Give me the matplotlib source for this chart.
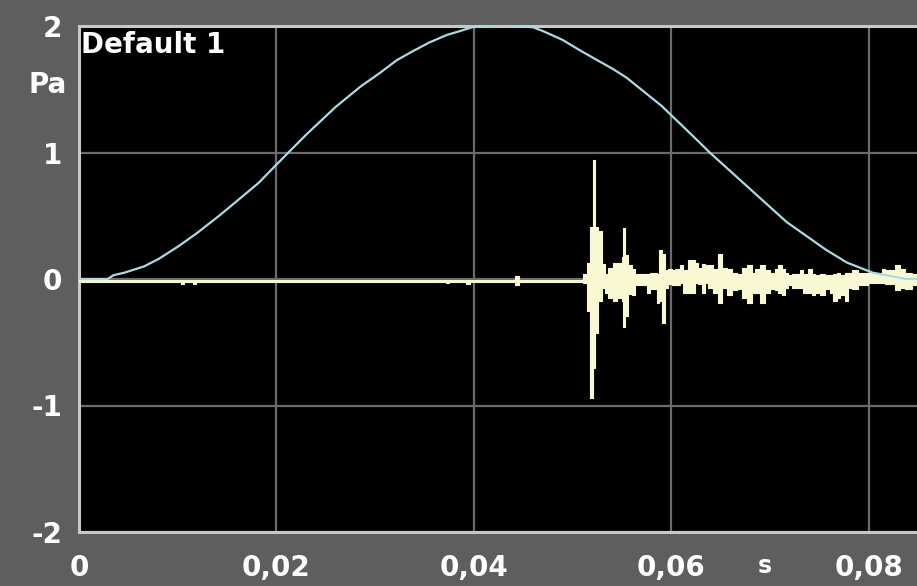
import numpy as np
import matplotlib
matplotlib.use("Agg")
import matplotlib.pyplot as plt

# window curve (light blue), time in ms
window_t = [0.0, 2.9, 3.5, 4.6, 5.6, 6.6, 8.1, 10.1, 11.9, 14.2, 15.9, 18.2, 20.2,
            23.0, 26.0, 28.5, 30.5, 32.2, 33.8, 35.5, 37.3, 38.6, 39.8, 42.7, 46.0,
            47.0, 49.0, 50.7, 52.5, 54.1, 55.5, 59.0, 62.6, 63.9, 69.0, 71.7, 73.7,
            75.7, 77.8, 79.1, 80.4, 81.8, 83.8, 85.0]
window_pa = [0.0, 0.0, 0.03, 0.05, 0.075, 0.10, 0.16, 0.26, 0.36, 0.50, 0.61, 0.76, 0.92,
             1.14, 1.36, 1.52, 1.63, 1.73, 1.80, 1.87, 1.93, 1.96, 1.99, 2.01, 1.99,
             1.96, 1.89, 1.81, 1.73, 1.66, 1.59, 1.37, 1.10, 1.00, 0.64, 0.45, 0.34,
             0.23, 0.13, 0.09, 0.05, 0.03, 0.0, 0.0]

# measured signal (pale yellow), per-column max / min, time in ms
signal_t = [0.0, 10.3, 10.6, 11.5, 11.9, 37.2, 37.5, 39.2, 39.6, 44.2, 44.6,
            50.23, 51.04, 51.44, 51.75, 52.05, 52.25, 52.56, 52.96, 53.27, 53.57,
            54.08, 54.48, 54.99, 55.09, 55.30, 55.59, 56.00, 56.30, 57.52, 57.82,
            58.53, 58.73, 59.04, 59.34, 59.64, 60.05, 60.35, 60.86, 61.16, 61.67,
            62.38, 62.68, 63.09, 63.39, 63.70, 64.20, 64.71, 65.11, 65.62, 66.13,
            66.63, 67.14, 67.65, 68.15, 68.46, 68.96, 69.47, 69.97, 70.48, 70.78,
            71.19, 71.49, 71.80, 72.20, 73.01, 73.32, 73.82, 74.23, 74.53, 75.04,
            75.54, 76.05, 76.35, 76.76, 77.06, 77.57, 77.87, 78.28, 78.89, 79.90,
            81.32, 81.62, 82.63, 83.14, 83.65, 84.35, 84.86]
signal_hi = [-0.005, -0.005, -0.005, -0.005, -0.005, -0.005, -0.005, -0.005, -0.005, 0.02, -0.005,
             -0.005, 0.04, 0.13, 0.41, 0.94, 0.41, 0.38, 0.12, 0.04, 0.09,
             0.13, 0.13, 0.17, 0.40, 0.19, 0.11, 0.08, 0.04, 0.04, 0.05,
             0.04, 0.23, 0.20, 0.07, 0.08, 0.07, 0.08, 0.11, 0.07, 0.15,
             0.13, 0.09, 0.12, 0.11, 0.11, 0.08, 0.20, 0.09, 0.08, 0.05,
             0.04, 0.09, 0.11, 0.05, 0.08, 0.11, 0.07, 0.05, 0.08, 0.11,
             0.08, 0.05, 0.03, 0.04, 0.07, 0.04, 0.08, 0.04, 0.03, 0.04,
             0.03, 0.03, 0.04, 0.05, 0.03, 0.05, 0.05, 0.07, 0.05, 0.05,
             0.08, 0.07, 0.11, 0.08, 0.05, 0.04, 0.04]
signal_lo = [-0.025, -0.04, -0.025, -0.04, -0.025, -0.035, -0.025, -0.04, -0.025, -0.05, -0.025,
             -0.025, -0.03, -0.25, -0.94, -0.70, -0.43, -0.17, -0.07, -0.11, -0.15,
             -0.17, -0.15, -0.17, -0.38, -0.29, -0.12, -0.13, -0.05, -0.11, -0.08,
             -0.19, -0.17, -0.35, -0.07, -0.04, -0.05, -0.05, -0.03, -0.11, -0.11,
             -0.03, -0.04, -0.11, -0.03, -0.07, -0.11, -0.19, -0.07, -0.13, -0.09,
             -0.08, -0.15, -0.19, -0.11, -0.11, -0.19, -0.11, -0.08, -0.09, -0.11,
             -0.13, -0.07, -0.05, -0.07, -0.07, -0.11, -0.11, -0.13, -0.11, -0.13,
             -0.08, -0.11, -0.17, -0.15, -0.13, -0.17, -0.07, -0.08, -0.05, -0.03,
             -0.03, -0.04, -0.09, -0.07, -0.08, -0.05, -0.05]

x_ticks = [0.0, 0.02, 0.04, 0.06, 0.08]
x_labels = ["0", "0,02", "0,04", "0,06", "0,08"]
y_ticks = [2, 1, 0, -1, -2]
y_labels = ["2", "1", "0", "-1", "-2"]

BG = "#5e5e5e"
GRID = "#6b6b6b"
BORDER = "#c8c8c8"
BLUE = "#add8e6"
YELLOW = "#f8f8d2"

fig = plt.figure(figsize=(9.17, 5.86), dpi=100, facecolor=BG)
ax = fig.add_axes([79 / 917, 54 / 586, 1 - 79 / 917, 506 / 586])
ax.set_facecolor("black")

t_sig = np.array(signal_t) / 1000
ax.fill_between(t_sig, signal_lo, signal_hi, step="post", color=YELLOW,
                linewidth=0.8, edgecolor=YELLOW, zorder=3)
ax.plot(np.array(window_t) / 1000, window_pa, color=BLUE, lw=1.6, zorder=4)

ax.set_xlim(0, 0.0849)
ax.set_ylim(-2, 2)
ax.set_xticks(x_ticks)
ax.set_xticklabels(x_labels)
ax.set_yticks(y_ticks)
ax.set_yticklabels(y_labels)
ax.grid(True, color=GRID, lw=1.6, zorder=1)
ax.set_axisbelow(True)
ax.tick_params(length=0, colors="white", labelsize=20)
ax.tick_params(axis="x", pad=16)
ax.tick_params(axis="y", pad=12)
for lab in ax.get_xticklabels() + ax.get_yticklabels():
    lab.set_fontweight("bold")

for side in ["left", "top", "bottom"]:
    ax.spines[side].set_color(BORDER)
    ax.spines[side].set_linewidth(2.2)
ax.spines["right"].set_visible(False)

ax.text(0.0002, 1.96, "Default 1", color="white", fontsize=20, fontweight="bold",
        va="top", ha="left", zorder=5)
ax.text(-0.0012, 1.53, "Pa", color="white", fontsize=20, fontweight="bold",
        va="center", ha="right", clip_on=False)
ax.text(0.0695, -2.27, "s", color="white", fontsize=17, fontweight="bold",
        va="center", ha="center", clip_on=False)

fig.savefig("out.png", dpi=100, facecolor=BG)
